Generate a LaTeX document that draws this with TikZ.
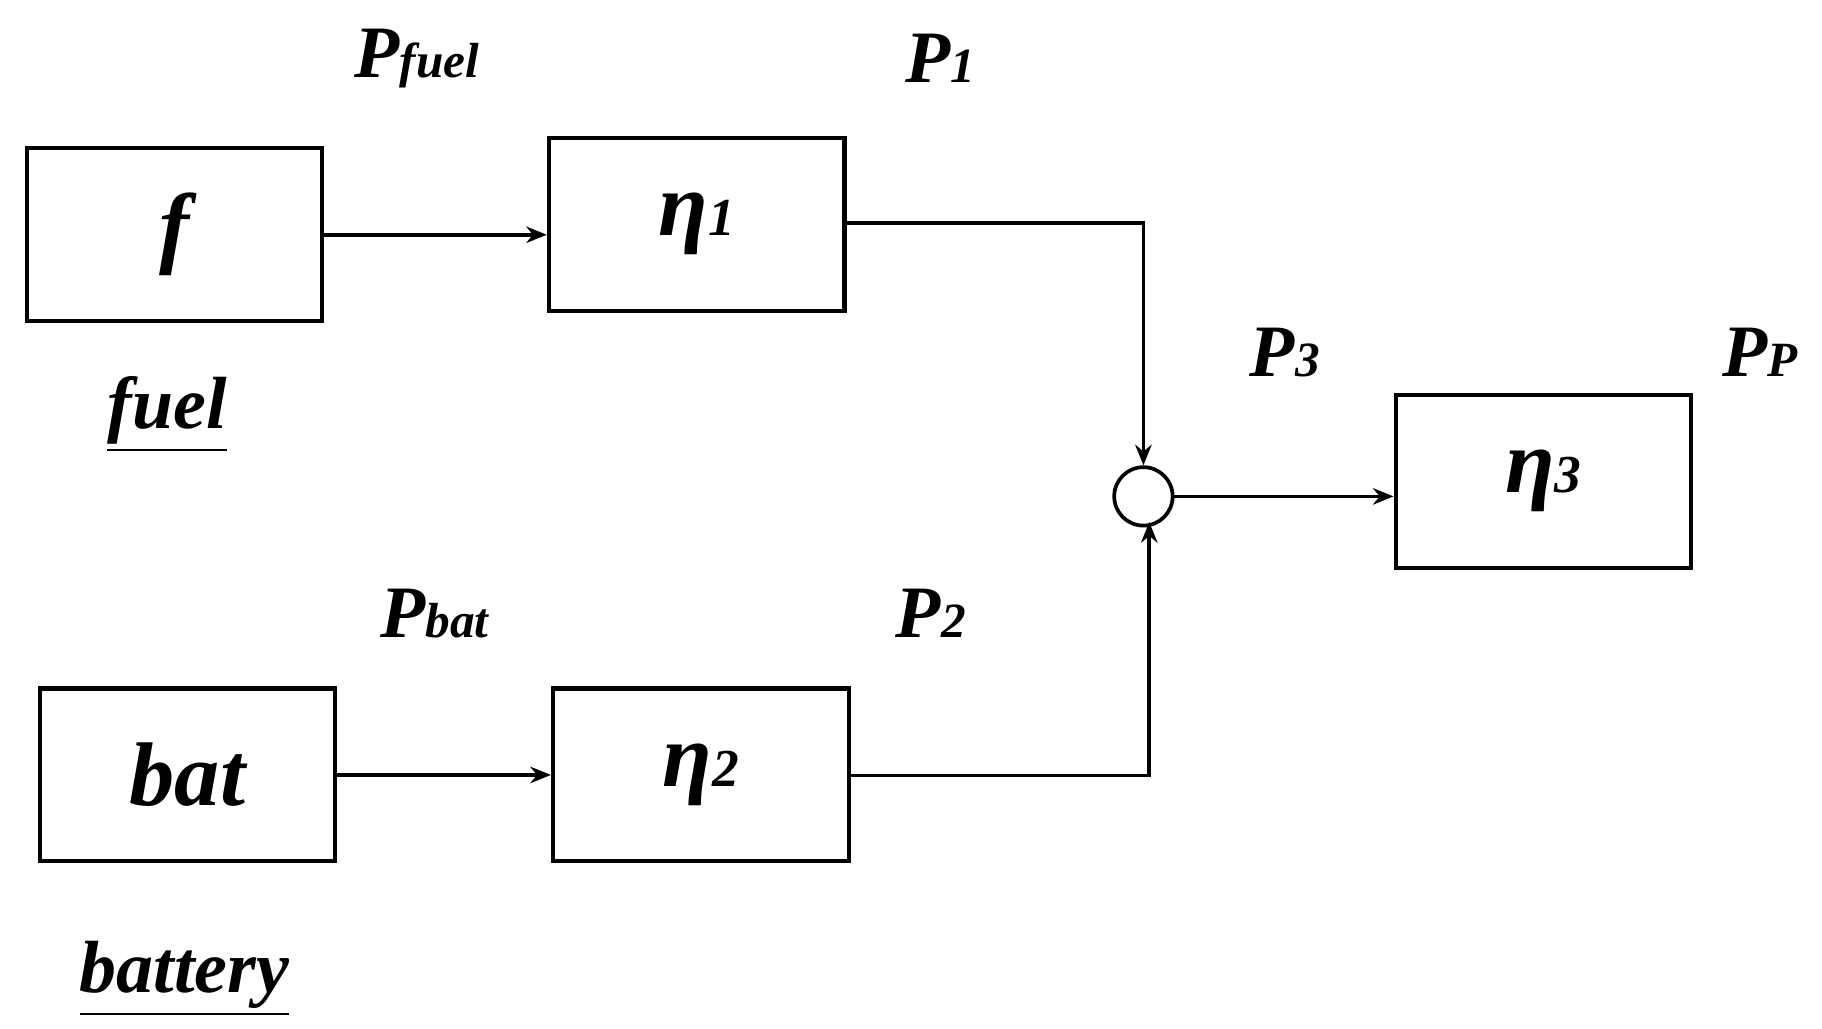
\documentclass[tikz,border=0pt]{standalone}
\usepackage{fontspec}
\setmainfont{Liberation Serif}
\usetikzlibrary{arrows.meta}
\newcommand{\lbl}[2]{\textbf{\textit{#1}}{\fontsize{12}{12}\selectfont\textbf{\textit{#2}}}}
\begin{document}
\begin{tikzpicture}[x=0.01cm,y=-0.01cm,
  box/.style={draw,line width=1pt,minimum width=2.53cm,minimum height=1.48cm,inner sep=0pt,font=\fontsize{22}{22}\selectfont\bfseries\itshape},
  lab/.style={font=\fontsize{18}{18}\selectfont\bfseries\itshape,inner sep=0pt},
  arr/.style={line width=0.9pt,-{Stealth[length=5pt,width=4pt]}},
  ln/.style={line width=0.9pt}]
\useasboundingbox (0,0) rectangle (1560,881);
\node[box] (f) at (149.5,201) {f};
\node[box] (e1) at (596.5,192) {η{\fontsize{13}{13}\selectfont 1}};
\node[box] (bat) at (160.5,663.5) {bat};
\node[box] (e2) at (600,663.5) {η{\fontsize{13}{13}\selectfont 2}};
\node[box] (e3) at (1321.5,412) {η{\fontsize{13}{13}\selectfont 3}};
\node[draw,circle,line width=0.9pt,minimum size=0.5cm,inner sep=0pt] (c) at (979,425) {};
\draw[arr] (f.east) -- (e1.west|-f.east);
\draw[arr] (bat.east) -- (e2.west);
\coordinate (k1) at (979,191);
\coordinate (k2) at (984,664);
\draw[arr] (e1.east|-k1) -- (k1) -- (c.north);
\draw[arr] (e2.east|-k2) -- (k2) -- (984,447);
\draw[arr] (c.east) -- (e3.west|-c.east);
\node[lab] (pf) at (357,50) {\lbl{P}{fuel}};
\node[lab] (p1) at (805,50) {\lbl{P}{1}};
\node[lab] (p3) at (1100,302) {\lbl{P}{3}};
\node[lab] (pp) at (1507,302) {\lbl{P}{P}};
\node[lab] (pb) at (372,525) {\lbl{P}{bat}};
\node[lab] (p2) at (797,525) {\lbl{P}{2}};
\node[lab] (fu) at (143,355) {\underline{fuel}};
\node[lab] (ba) at (158,838) {\underline{battery}};
\end{tikzpicture}
\end{document}
